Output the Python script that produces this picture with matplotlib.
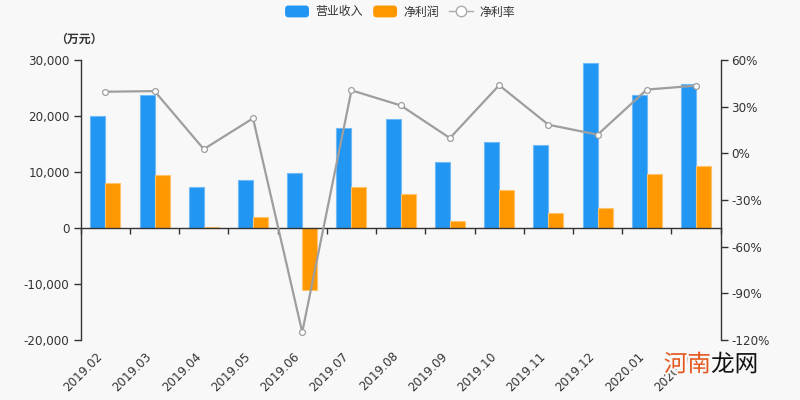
import matplotlib
matplotlib.use('Agg')
import matplotlib.pyplot as plt
from matplotlib.patches import FancyBboxPatch, Patch
from matplotlib.lines import Line2D
from matplotlib.legend_handler import HandlerPatch
from matplotlib.ticker import FuncFormatter
import matplotlib.patheffects as pe
import numpy as np

plt.rcParams['font.family'] = ['DejaVu Sans', 'Noto Sans CJK SC']

categories = ['2019.02', '2019.03', '2019.04', '2019.05', '2019.06', '2019.07', '2019.08',
              '2019.09', '2019.10', '2019.11', '2019.12', '2020.01', '2020.02']
revenue = [19960, 23760, 7240, 8560, 9800, 17830, 19480, 11820, 15380, 14790, 29460, 23760, 25780]
net_profit = [7950, 9500, 200, 1960, -11140, 7240, 6060, 1180, 6770, 2730, 3560, 9730, 11160]
net_margin = [39.6, 40.0, 2.7, 22.5, -115.0, 40.5, 30.8, 9.8, 43.8, 18.4, 12.0, 41.0, 43.5]

left_ticks = [-20000, -10000, 0, 10000, 20000, 30000]
right_ticks = [-120, -90, -60, -30, 0, 30, 60]
series_names = ['营业收入', '净利润', '净利率']

BG = '#f8f8f8'
BLUE = '#2196f3'
ORANGE = '#ff9800'
GRAY = '#9e9e9e'
TXT = '#333333'
FS = 8.6

fig = plt.figure(figsize=(8, 4), dpi=100, facecolor=BG)
ax = fig.add_axes([80.7 / 800, 0.15, 640 / 800, 0.70])
ax.set_facecolor(BG)
ax2 = ax.twinx()

x = np.arange(len(categories))
w = 0.305
ax.bar(x - w / 2, revenue, w, color=BLUE, edgecolor='#6fbaf7', linewidth=0.8, zorder=2)
ax.bar(x + w / 2, net_profit, w, color=ORANGE, edgecolor='#ffc46b', linewidth=0.8, zorder=2)

ax.set_xlim(-0.5, len(categories) - 0.5)
ax.set_ylim(left_ticks[0], left_ticks[-1])
ax2.set_ylim(right_ticks[0], right_ticks[-1])

ax2.plot(x, net_margin, color=GRAY, lw=1.6, marker='o', ms=4.2,
         mfc='white', mec=GRAY, mew=0.9, zorder=3)

# spines
for s in ['top', 'right']:
    ax.spines[s].set_visible(False)
for s in ['top', 'left', 'bottom']:
    ax2.spines[s].set_visible(False)
ax.spines['left'].set_color(TXT)
ax.spines['bottom'].set_color(TXT)
ax.spines['bottom'].set_position(('data', 0))
ax2.spines['right'].set_color(TXT)
for sp in [ax.spines['left'], ax.spines['bottom'], ax2.spines['right']]:
    sp.set_linewidth(1.0)

# x ticks at category boundaries on the zero line
ax.set_xticks(np.arange(len(categories) + 1) - 0.5)
ax.tick_params(axis='x', direction='out', length=4.5, width=1, color=TXT, labelbottom=False)

sec = ax.secondary_xaxis('bottom')
sec.set_xticks(x, categories, rotation=45, ha='right')
sec.tick_params(length=0, pad=7, labelsize=FS, labelcolor=TXT)
sec.spines['bottom'].set_visible(False)

ax.set_yticks(left_ticks)
ax.yaxis.set_major_formatter(FuncFormatter(lambda v, p: f'{v:,.0f}'.replace('\u2212', '-')))
ax.tick_params(axis='y', length=5, width=1, color=TXT, labelcolor=TXT, labelsize=FS, pad=3)

ax2.set_yticks(right_ticks, [f'{v}%' for v in right_ticks])
ax2.tick_params(axis='y', length=5, width=1, color=TXT, labelcolor=TXT, labelsize=FS, pad=2.5)


class HandlerRound(HandlerPatch):
    def create_artists(self, legend, orig_handle, xdescent, ydescent, width, height, fontsize, trans):
        p = FancyBboxPatch((-xdescent, -ydescent), width, height,
                           boxstyle=f'round,pad=0,rounding_size={height * 0.3}',
                           facecolor=orig_handle.get_facecolor(), edgecolor='none',
                           transform=trans)
        return [p]


handles = [Patch(facecolor=BLUE), Patch(facecolor=ORANGE),
           Line2D([], [], color='#aaaaaa', lw=1, marker='o', ms=7.5, mfc='white', mec='#aaaaaa', mew=1)]
fig.legend(handles, series_names, loc='center', bbox_to_anchor=(0.5, 0.97), ncol=3,
           frameon=False, handlelength=2.0, handleheight=1.15, handletextpad=0.5,
           columnspacing=0.9, fontsize=FS, labelcolor=TXT,
           handler_map={Patch: HandlerRound()})

fig.text(79 / 800, 1 - 39 / 400, '（万元）', ha='center', va='center', fontsize=FS,
         fontweight='bold', color=TXT, family=['Noto Sans CJK SC'])

# watermark
stroke = [pe.withStroke(linewidth=3, foreground=BG)]
fig.text(711 / 800, 1 - 365 / 400, '河南', ha='right', va='center', fontsize=17,
         color='#e3581c', family=['Noto Sans CJK SC'], path_effects=stroke)
fig.text(711 / 800, 1 - 365 / 400, '龙网', ha='left', va='center', fontsize=17,
         color='#111111', family=['Noto Sans CJK SC'], path_effects=stroke)

fig.savefig('out.png', dpi=100, facecolor=BG)
